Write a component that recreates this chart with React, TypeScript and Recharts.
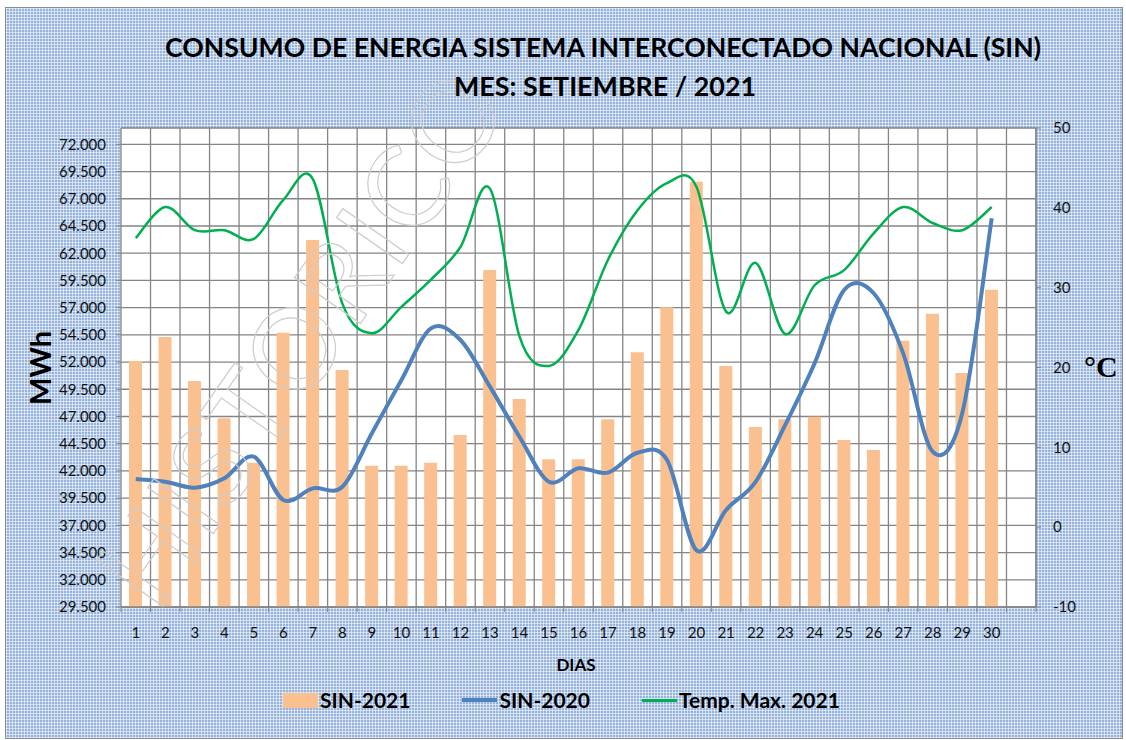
import React from 'react';
import { ComposedChart, Bar, Line, XAxis, YAxis, CartesianGrid } from 'recharts';

// Consumo diario SIN, setiembre 2021 (MWh) vs 2020, y temperatura maxima (°C)
const days = [
  '1', '2', '3', '4', '5', '6', '7', '8', '9', '10',
  '11', '12', '13', '14', '15', '16', '17', '18', '19', '20',
  '21', '22', '23', '24', '25', '26', '27', '28', '29', '30',
];

const sin2021 = [
  52100, 54300, 50260, 46830, 42760, 54700, 63210, 51270, 42480, 42480,
  42760, 45300, 60460, 48610, 43070, 43070, 46740, 52900, 57030, 68570,
  51640, 46030, 46740, 46980, 44840, 43920, 53960, 56440, 51000, 58650,
];

const sin2020 = [
  41260, 41010, 40460, 41320, 43310, 39330, 40400, 40550, 45460, 50350,
  55100, 54030, 49740, 45140, 41010, 42240, 41840, 43670, 43000, 34700,
  38410, 41000, 46200, 51890, 58620, 58320, 52800, 43770, 47290, 65210,
];

const tempMax2021 = [
  36.2, 40.1, 37.2, 37.2, 36.1, 41.0, 43.6, 28.0, 24.3, 27.6,
  31.0, 35.1, 42.4, 23.9, 20.2, 24.7, 33.5, 39.7, 43.1, 42.6,
  27.0, 33.1, 24.2, 30.3, 32.2, 36.8, 40.1, 38.1, 37.2, 40.1,
];

const mwhTicks = [
  29500, 32000, 34500, 37000, 39500, 42000, 44500, 47000, 49500,
  52000, 54500, 57000, 59500, 62000, 64500, 67000, 69500, 72000,
];
const tempTicks = [-10, 0, 10, 20, 30, 40, 50];

const COLORS = {
  sin2021: '#FAC090',
  sin2020: '#4F81BD',
  temp: '#00B050',
  grid: '#858585',
};

const FONT = 'Lato, "Open Sans", sans-serif';
const PLOT = { left: 121, right: 1036, top: 128, bottom: 607 };
// excel leaves one empty slot after day 30
const slots = [...days, ''];

const data = slots.map((d, i) => ({
  day: d,
  sin2021: sin2021[i] ?? null,
  sin2020: sin2020[i] ?? null,
  temp: tempMax2021[i] ?? null,
}));

const fmtMwh = (v: number) =>
  `${Math.floor(v / 1000)}.${String(v % 1000).padStart(3, '0')}`;

// smooth line like excel's (catmull-rom through the points)
const excelCurve = (ctx: any) => {
  let pts: number[][] = [];
  return {
    areaStart() {},
    areaEnd() {},
    lineStart() {
      pts = [];
    },
    point(x: number, y: number) {
      pts.push([+x, +y]);
    },
    lineEnd() {
      if (!pts.length) return;
      ctx.moveTo(pts[0][0], pts[0][1]);
      for (let i = 0; i < pts.length - 1; i++) {
        const p0 = pts[i - 1] || pts[i];
        const p1 = pts[i];
        const p2 = pts[i + 1];
        const p3 = pts[i + 2] || p2;
        ctx.bezierCurveTo(
          p1[0] + (p2[0] - p0[0]) / 6,
          p1[1] + (p2[1] - p0[1]) / 6,
          p2[0] - (p3[0] - p1[0]) / 6,
          p2[1] - (p3[1] - p1[1]) / 6,
          p2[0],
          p2[1]
        );
      }
    },
  };
};

const band = (PLOT.right - PLOT.left) / slots.length;

const DayTick = ({ x, y, payload, index }: any) => (
  <g>
    {index === 0 && (
      <line x1={x - band / 2} x2={x - band / 2} y1={y} y2={y + 5} stroke={COLORS.grid} />
    )}
    <line x1={x + band / 2} x2={x + band / 2} y1={y} y2={y + 5} stroke={COLORS.grid} />
    <text x={x} y={y + 30.5} textAnchor="middle" fontSize={15} fontFamily={FONT} fill="#111">
      {payload.value}
    </text>
  </g>
);

const LegendItem = ({ kind, color, label, thick }: { kind: 'box' | 'line'; color: string; label: string; thick?: number }) => (
  <div style={{ display: 'flex', alignItems: 'center' }}>
    {kind === 'box' ? (
      <div style={{ width: 35, height: 15, background: color, marginRight: 2 }} />
    ) : (
      <div style={{ width: 35, height: thick, background: color, marginRight: 2 }} />
    )}
    <span>{label}</span>
  </div>
);

export default function App() {
  return (
    <div style={{ position: 'absolute', left: 0, top: 0, width: 1126, height: 740, background: '#fff', overflow: 'hidden' }}>
      <div
        style={{
          position: 'absolute',
          left: 5,
          top: 7,
          width: 1116,
          height: 730,
          border: '1px solid #8c8c8c',
          backgroundColor: '#95b3dc',
          backgroundImage:
            'repeating-linear-gradient(90deg, rgba(255,255,255,0.55) 0 1px, transparent 1px 3px), repeating-linear-gradient(0deg, rgba(255,255,255,0.55) 0 1px, transparent 1px 3px)',
        }}
      />
      <div style={{ position: 'absolute', left: 0, top: 0 }}>
        <ComposedChart
          width={1126}
          height={740}
          data={data}
          margin={{ top: PLOT.top, right: 0, bottom: 740 - PLOT.bottom - 30, left: 0 }}
          barCategoryGap={0}
        >
          <CartesianGrid
            yAxisId="left"
            stroke={COLORS.grid}
            strokeWidth={1.3}
            fill="#fff"
            fillOpacity={1}
            verticalCoordinatesGenerator={({ offset }: any) =>
              slots.map((_, i) => offset.left + (i + 1) * (offset.width / slots.length))
            }
          />
          <XAxis
            dataKey="day"
            height={30}
            interval={0}
            tickLine={false}
            tickSize={0}
            tickMargin={0}
            axisLine={{ stroke: COLORS.grid, strokeWidth: 1.3 }}
            tick={<DayTick />}
          />
          <YAxis
            yAxisId="left"
            width={PLOT.left}
            domain={[29500, 73500]}
            ticks={mwhTicks}
            interval={0}
            tickFormatter={fmtMwh}
            tickSize={5}
            tickMargin={10}
            axisLine={{ stroke: COLORS.grid, strokeWidth: 1.3 }}
            tickLine={{ stroke: COLORS.grid }}
            tick={{ fontSize: 15, fontFamily: FONT, fill: '#111' }}
          />
          <YAxis
            yAxisId="right"
            orientation="right"
            width={1126 - PLOT.right}
            domain={[-10, 50]}
            ticks={tempTicks}
            interval={0}
            tickSize={5}
            tickMargin={12}
            axisLine={{ stroke: COLORS.grid, strokeWidth: 1.3 }}
            tickLine={{ stroke: COLORS.grid }}
            tick={{ fontSize: 15, fontFamily: FONT, fill: '#111', textAnchor: 'start' }}
          />
          <Bar
            yAxisId="left"
            dataKey="sin2021"
            name="SIN-2021"
            fill={COLORS.sin2021}
            barSize={13}
            isAnimationActive={false}
          />
          <Line
            yAxisId="left"
            dataKey="sin2020"
            name="SIN-2020"
            type={excelCurve as any}
            stroke={COLORS.sin2020}
            strokeWidth={4}
            dot={false}
            activeDot={false}
            isAnimationActive={false}
          />
          <Line
            yAxisId="right"
            dataKey="temp"
            name="Temp. Max. 2021"
            type={excelCurve as any}
            stroke={COLORS.temp}
            strokeWidth={2.5}
            dot={false}
            activeDot={false}
            isAnimationActive={false}
          />
        </ComposedChart>
      </div>

      <svg
        width={1126}
        height={740}
        style={{ position: 'absolute', left: 0, top: 0, pointerEvents: 'none' }}
      >
        <text
          x={335}
          y={360}
          transform="rotate(-55 335 360)"
          textAnchor="middle"
          fontSize={112}
          letterSpacing={3}
          fontFamily={FONT}
          fill="none"
          stroke="#cdcdcd"
          strokeWidth={1.2}
        >
          HISTORICO
        </text>
        <g fontFamily={FONT} fontWeight="bold" fill="#000" textAnchor="middle">
          <text x={603} y={57} fontSize={27} textLength={876} lengthAdjust="spacingAndGlyphs">
            CONSUMO DE ENERGIA SISTEMA INTERCONECTADO NACIONAL (SIN)
          </text>
          <text x={605} y={96} fontSize={27} textLength={302} lengthAdjust="spacingAndGlyphs">
            MES: SETIEMBRE / 2021
          </text>
          <text x={0} y={0} fontSize={29} transform="translate(51 368) rotate(-90)">
            MWh
          </text>
          <text x={576} y={671} fontSize={17}>
            DIAS
          </text>
        </g>
        <text
          x={1084}
          y={377}
          fontSize={30}
          fontWeight="bold"
          fontFamily='"Liberation Serif", "DejaVu Serif", serif'
          fill="#000"
        >
          °C
        </text>
      </svg>

      <div
        style={{
          position: 'absolute',
          left: 283,
          top: 686,
          display: 'flex',
          gap: 52,
          fontFamily: FONT,
          fontWeight: 'bold',
          fontSize: 21,
          lineHeight: '28px',
          color: '#000',
        }}
      >
        <LegendItem kind="box" color={COLORS.sin2021} label="SIN-2021" />
        <LegendItem kind="line" color={COLORS.sin2020} label="SIN-2020" thick={4} />
        <LegendItem kind="line" color={COLORS.temp} label="Temp. Max. 2021" thick={3} />
      </div>
    </div>
  );
}
